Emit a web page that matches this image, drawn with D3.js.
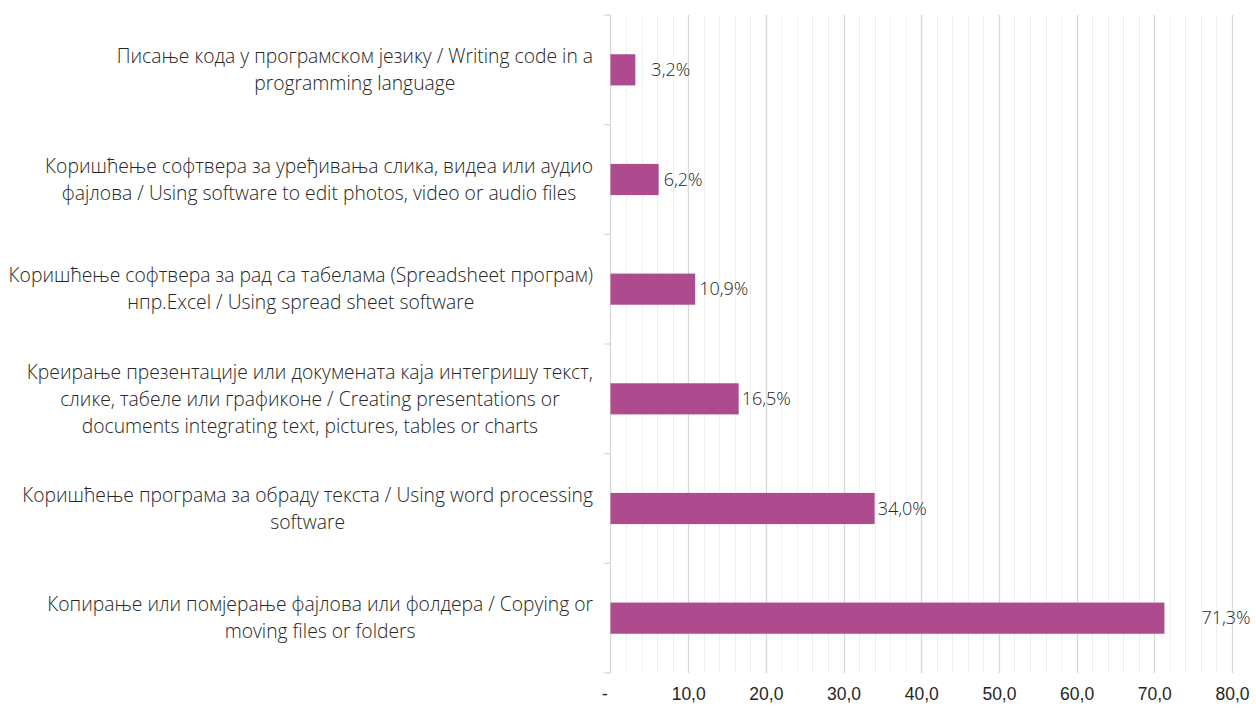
<!DOCTYPE html>
<html><head><meta charset="utf-8">
<script src="https://cdn.jsdelivr.net/npm/d3@7"></script>
<style>
html,body{margin:0;padding:0;background:#fff;}
svg{display:block;font-family:"Open Sans","Noto Sans",sans-serif;font-weight:300;}
</style></head>
<body>
<svg id="chart" width="1256" height="709"></svg>
<script>
const categories = [
  ["Писање кода у програмском језику / Writing code in a", "programming language"],
  ["Коришћење софтвера за уређивања слика, видеа или аудио", "фајлова / Using software to edit photos, video or audio files"],
  ["Коришћење софтвера за рад са табелама (Spreadsheet програм)", "нпр.Excel / Using spread sheet software"],
  ["Креирање презентације или докумената каја интегришу текст,", "слике, табеле или графиконе / Creating presentations or", "documents integrating text, pictures, tables or charts"],
  ["Коришћење програма за обраду текста / Using word processing", "software"],
  ["Копирање или помјерање фајлова или фолдера / Copying or", "moving files or folders"]
];
const values = [3.2, 6.2, 10.9, 16.5, 34.0, 71.3];
const tickValues = [0, 10, 20, 30, 40, 50, 60, 70, 80];
const tickLabels = ["-", "10,0", "20,0", "30,0", "40,0", "50,0", "60,0", "70,0", "80,0"];
const minorTicks = d3.range(0, 81, 2);
// layout-only label nudges (px) to mimic manual placement
const labelShift = [16, 5, 4, 3, 3, 37];

const svg = d3.select("#chart");
const pL = 610.5, pR = 1232, pT = 15, pB = 673;
const textColor = "#262626";
const x = d3.scaleLinear().domain([0, 80]).range([pL, pR]);
const y = d3.scaleBand().domain(d3.range(categories.length)).range([pT, pB]).paddingInner(0.716).paddingOuter(0.358);
const yCat = d3.scaleBand().domain(d3.range(categories.length)).range([pT, pB]);

// minor gridlines
svg.append("g").selectAll("line").data(minorTicks.filter(d => d % 10 !== 0)).join("line")
  .attr("x1", d => Math.round(x(d)) + 0.5).attr("x2", d => Math.round(x(d)) + 0.5)
  .attr("y1", pT).attr("y2", pB)
  .attr("stroke", "#efefef").attr("stroke-width", 1);
// major gridlines
svg.append("g").selectAll("line").data(tickValues.filter(d => d > 0)).join("line")
  .attr("x1", d => Math.round(x(d)) + 0.5).attr("x2", d => Math.round(x(d)) + 0.5)
  .attr("y1", pT).attr("y2", pB)
  .attr("stroke", "#d9d9d9").attr("stroke-width", 1.3);

// y axis with category boundary ticks
const yAxisG = svg.append("g");
yAxisG.append("line").attr("x1", pL).attr("x2", pL).attr("y1", pT).attr("y2", pB)
  .attr("stroke", "#d9d9d9").attr("stroke-width", 1.3);
const bounds = d3.range(categories.length + 1).map(i => i === categories.length ? pB : yCat(i));
yAxisG.selectAll("line.tk").data(bounds).join("line").attr("class", "tk")
  .attr("x1", pL - 6).attr("x2", pL).attr("y1", d => d).attr("y2", d => d)
  .attr("stroke", "#d9d9d9").attr("stroke-width", 1.3);

// bars
svg.append("g").selectAll("rect").data(values).join("rect")
  .attr("x", x(0)).attr("y", (d, i) => y(i))
  .attr("width", d => x(d) - x(0)).attr("height", y.bandwidth())
  .attr("fill", "#ae4b8f");

// value labels
svg.append("g").selectAll("text").data(values).join("text")
  .attr("x", (d, i) => x(d) + labelShift[i]).attr("y", (d, i) => y(i) + y.bandwidth() / 2)
  .attr("dy", "0.35em").attr("font-size", 18).attr("fill", textColor)
  .text(d => d3.format(".1f")(d).replace(".", ",") + "%");

// x axis tick labels
const xAxis = d3.axisBottom(x).tickValues(tickValues).tickSize(0).tickFormat((d, i) => tickLabels[i]);
const xg = svg.append("g").attr("transform", `translate(0,${pB + 12})`).call(xAxis);
xg.select(".domain").remove();
xg.selectAll("text").attr("font-size", 17.5).attr("fill", textColor)
  .attr("font-family", "inherit").attr("font-weight", 300);
xg.selectAll(".tick").filter(d => d === 0).select("text").attr("dx", -6);

// category labels
const lineH = 27;
const catG = svg.append("g").attr("font-size", 19.3).attr("fill", textColor);
categories.forEach((lines, i) => {
  const cy = yCat(i) + yCat.bandwidth() / 2;
  const t = catG.append("text").attr("text-anchor", "middle");
  lines.forEach((ln, j) => {
    t.append("tspan").attr("y", cy + (j - (lines.length - 1) / 2) * lineH).attr("dy", "0.35em").text(ln);
  });
  let maxW = 0;
  t.selectAll("tspan").each(function() { maxW = Math.max(maxW, this.getComputedTextLength()); });
  const cx = 593 - maxW / 2;
  t.selectAll("tspan").attr("x", cx);
});
</script>
</body></html>
